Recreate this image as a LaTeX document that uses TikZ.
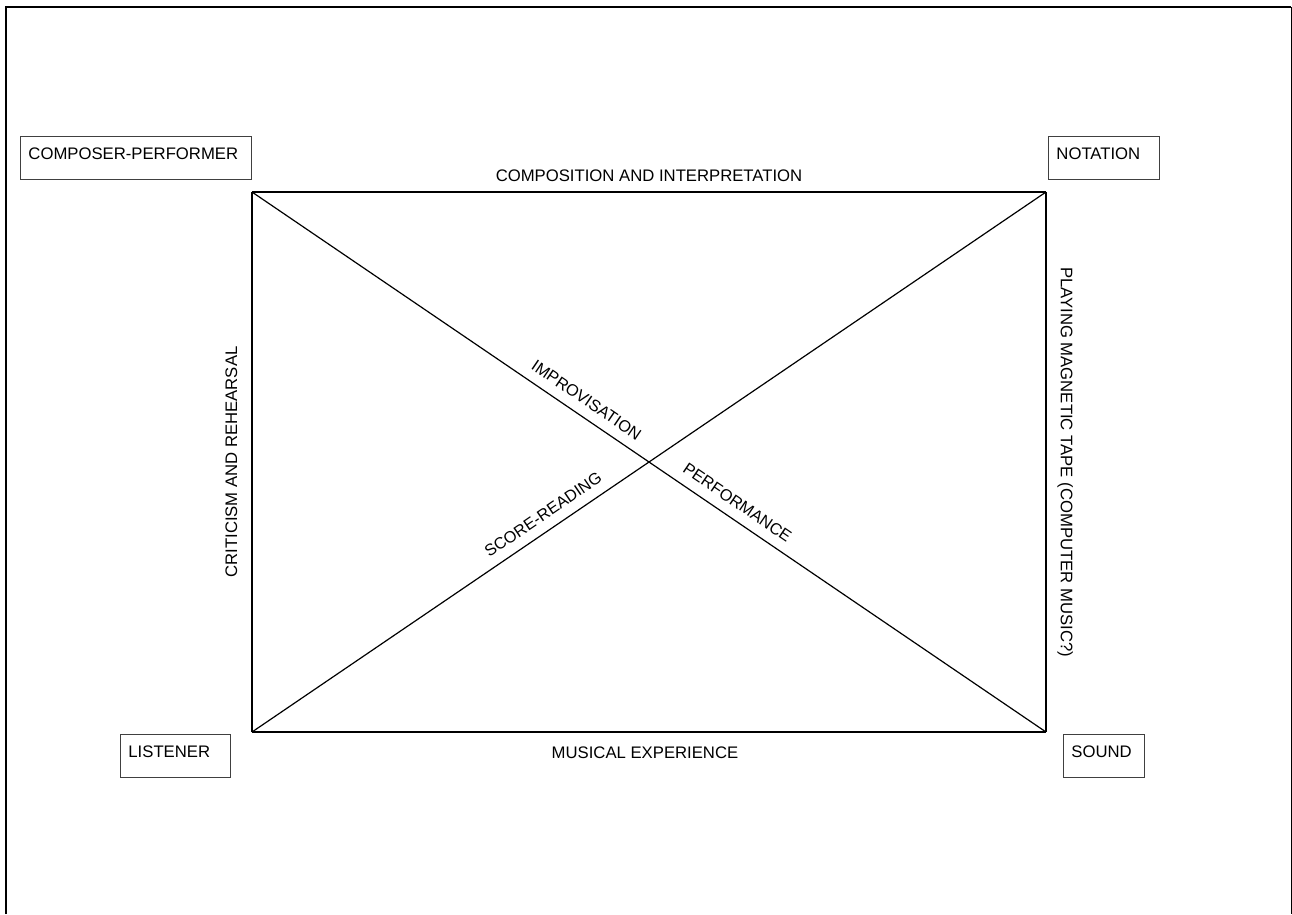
\documentclass[tikz,border=0pt]{standalone}
\usepackage{fontspec}
\setmainfont{Liberation Sans}
\usepackage{tikz}
\usetikzlibrary{positioning}

\tikzset{
  cornerbox/.style={draw=black!75, line width=0.9pt, anchor=north west,
    inner xsep=8pt, inner ysep=0pt, text height=23pt, text depth=20pt,
    align=left, font=\fontsize{16.7}{20}\selectfont},
  edgelbl/.style={font=\fontsize{16.7}{20}\selectfont, text depth=0pt},
  diaglbl/.style={font=\fontsize{16.3}{19}\selectfont, sloped, above=6.5pt, text depth=0pt},
  side/.style={line width=1.2pt},
}

\begin{document}
\begin{tikzpicture}[x=1pt, y=-1pt]
            \useasboundingbox (0,0) rectangle (1292,914);
            
            % Page frame (open at the bottom)
            \draw[line width=2pt] (6,914) -- (6,7) -- (1291,7);
            \draw[line width=1pt] (1291,7) -- (1291,914);
            
            % Corners of the square
            \coordinate (nw) at (252,192);
            \coordinate (ne) at (1046,192);
            \coordinate (sw) at (252,732);
            \coordinate (se) at (1046,732);
            
            \node[cornerbox, text width=215pt] (composer) at (20,136) {COMPOSER-PERFORMER};
            \node[cornerbox, text width=95pt] (notation) at (1048,136) {NOTATION};
            \node[cornerbox, text width=94pt] (listener) at (120,734) {LISTENER};
            \node[cornerbox, text width=65pt] (sound) at (1063,734) {SOUND};
            
            % Sides
            \draw[side] (nw) -- node[edgelbl, midway, above=7pt] (compint) {COMPOSITION AND INTERPRETATION} (ne);
            \draw[side] (ne) -- node[edgelbl, midway, sloped, above=11pt] (tape) {PLAYING MAGNETIC TAPE (COMPUTER MUSIC?)} (se);
            \draw[side] (sw) -- node[edgelbl, midway, below=11pt, xshift=-4pt] (experience) {MUSICAL EXPERIENCE} (se);
            \draw[side] (sw) -- node[edgelbl, midway, sloped, above=11pt] (criticism) {CRITICISM AND REHEARSAL} (nw);
            
            % Diagonals
            \draw[side] (nw) -- node[diaglbl, pos=0.41] (improv) {IMPROVISATION}
                node[diaglbl, pos=0.60] (perf) {PERFORMANCE} (se);
            \draw[side] (sw) -- node[diaglbl, pos=0.378] (score) {SCORE-READING} (ne);
        \end{tikzpicture}
\end{document}
